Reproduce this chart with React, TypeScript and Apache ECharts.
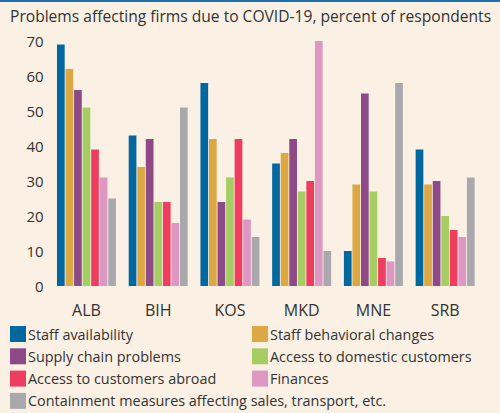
import React, { useEffect, useRef } from "react";
import * as echarts from "echarts";

const categories = ["ALB", "BIH", "KOS", "MKD", "MNE", "SRB"];
const seriesNames = [
  "Staff availability",
  "Staff behavioral changes",
  "Supply chain problems",
  "Access to domestic customers",
  "Access to customers abroad",
  "Finances",
  "Containment measures affecting sales, transport, etc.",
];
const staffAvailability = [69, 43, 58, 35, 10, 39];
const staffBehavioral = [62, 34, 42, 38, 29, 29];
const supplyChain = [56, 42, 24, 42, 55, 30];
const domesticCustomers = [51, 24, 31, 27, 27, 20];
const customersAbroad = [39, 24, 42, 30, 8, 16];
const finances = [31, 18, 19, 70, 7, 14];
const containment = [25, 51, 14, 10, 58, 31];
const yTicks = [0, 10, 20, 30, 40, 50, 60, 70];

const seriesData = [
  staffAvailability,
  staffBehavioral,
  supplyChain,
  domesticCustomers,
  customersAbroad,
  finances,
  containment,
];
const colors = ["#00679F", "#DBA843", "#8E4A86", "#A5CD62", "#EE3D5F", "#DE96C2", "#A9A9AD"];
const FONT = "Open Sans";

export default function App() {
  const ref = useRef<HTMLDivElement>(null);
  useEffect(() => {
    document.body.style.margin = "0";
    const chart = echarts.init(ref.current!, null, { renderer: "svg" });
    const legendCommon = {
      orient: "vertical",
      itemWidth: 16,
      itemHeight: 16,
      itemGap: 6.3,
      icon: "rect",
      padding: 0,
      textStyle: { fontFamily: FONT, fontSize: 14.4, color: "#333", padding: [0, 0, 0, -3] },
    };
    chart.setOption({
      animation: false,
      backgroundColor: "#FAF0E4",
      color: colors,
      title: {
        text: "Problems affecting firms due to COVID-19, percent of respondents",
        left: 10,
        top: 8,
        padding: 0,
        textStyle: { fontFamily: FONT, fontSize: 15.6, fontWeight: "normal", color: "#333" },
      },
      graphic: [
        { type: "rect", shape: { x: 0, y: 0, width: 500, height: 2 }, style: { fill: "#1C6FAE" } },
      ],
      legend: [
        { ...legendCommon, left: 10, top: 326, data: [seriesNames[0], seriesNames[2], seriesNames[4], seriesNames[6]] },
        { ...legendCommon, left: 252, top: 326, data: [seriesNames[1], seriesNames[3], seriesNames[5]] },
      ],
      grid: { left: 50.6, right: 19, top: 41, bottom: 127, containLabel: false },
      xAxis: {
        type: "category",
        data: categories,
        axisLine: { show: false },
        axisTick: { show: false },
        axisLabel: { fontFamily: FONT, fontSize: 16, color: "#333", margin: 16 },
      },
      yAxis: {
        type: "value",
        min: yTicks[0],
        max: yTicks[yTicks.length - 1],
        interval: 10,
        splitLine: { show: false },
        axisLine: { show: false },
        axisTick: { show: false },
        axisLabel: { fontFamily: FONT, fontSize: 15, color: "#333", margin: 7 },
      },
      series: seriesNames.map((name, i) => ({
        name,
        type: "bar",
        data: seriesData[i],
        barWidth: 7.7,
        barGap: "11%",
      })),
    });
    return () => chart.dispose();
  }, []);
  return <div ref={ref} style={{ width: 500, height: 413 }} />;
}
